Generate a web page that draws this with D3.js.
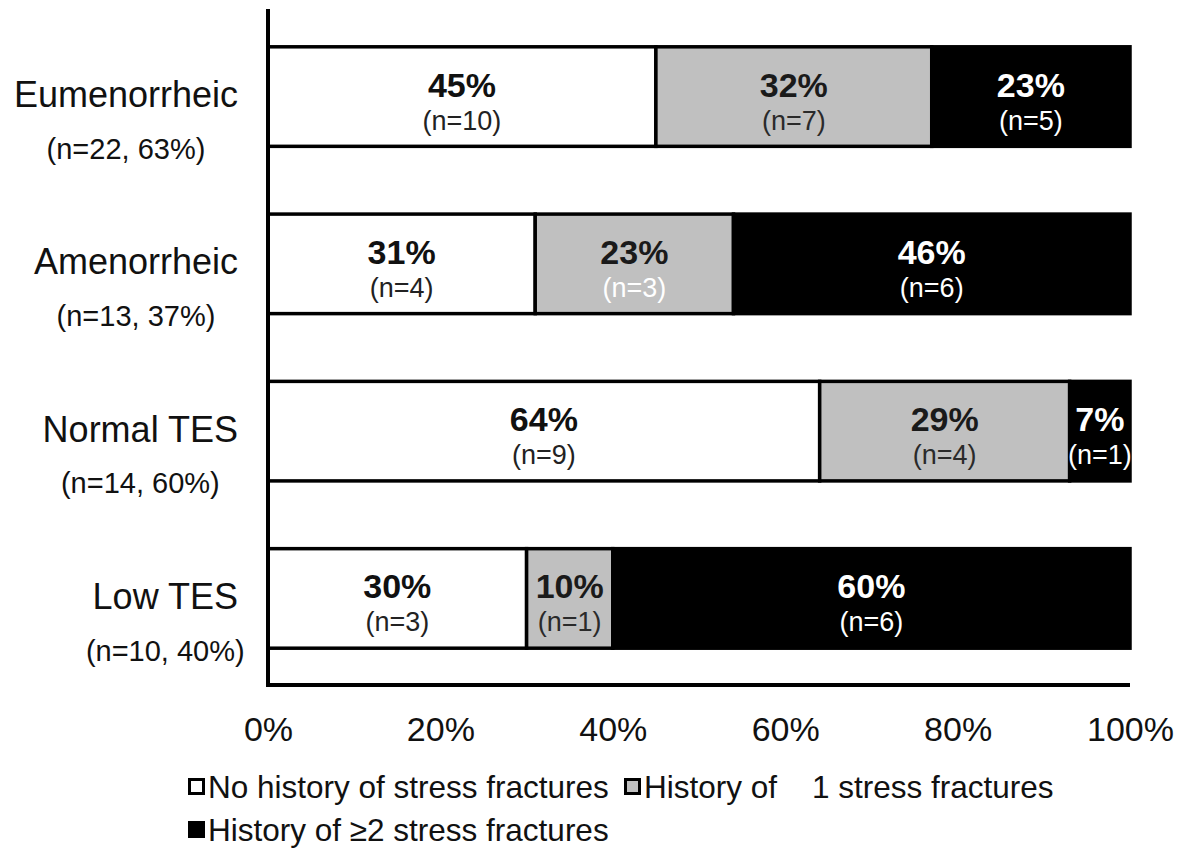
<!DOCTYPE html>
<html>
<head>
<meta charset="utf-8">
<script src="https://cdn.jsdelivr.net/npm/d3@7"></script>
<style>
  html, body { margin: 0; padding: 0; background: #fff; }
  svg { display: block; font-family: "Liberation Sans", Arial, sans-serif; }
</style>
</head>
<body>
<svg id="chart" width="1185" height="851"></svg>
<script>
// ---- data ----
const categories = ["Eumenorrheic", "Amenorrheic", "Normal TES", "Low TES"];
const categorySubLabels = ["(n=22, 63%)", "(n=13, 37%)", "(n=14, 60%)", "(n=10, 40%)"];
const seriesNames = ["No history of stress fractures", "History of    1 stress fractures", "History of \u22652 stress fractures"];
const noHistoryPct = [45, 31, 64, 30];
const noHistoryN = [10, 4, 9, 3];
const oneFracturePct = [32, 23, 29, 10];
const oneFractureN = [7, 3, 4, 1];
const twoPlusPct = [23, 46, 7, 60];
const twoPlusN = [5, 6, 1, 6];
const xTickValues = [0, 20, 40, 60, 80, 100];
const xTickLabels = ["0%", "20%", "40%", "60%", "80%", "100%"];

// ---- styles ----
const fills = ["#ffffff", "#c0c0c0", "#000000"];
const pctColors = ["#111111", "#1a1a1a", "#ffffff"];
const nColors = ["#222222", "#2a2a2a", "#ffffff"];

const svg = d3.select("#chart");
const x = d3.scaleLinear().domain([0, 100]).range([268, 1130]);
const y = d3.scaleBand().domain(categories).range([10, 685]).paddingInner(0.405).paddingOuter(0.22);

const seriesPct = [noHistoryPct, oneFracturePct, twoPlusPct];
const seriesN = [noHistoryN, oneFractureN, twoPlusN];

// stacked segments
const rows = categories.map((c, i) => {
  let acc = 0;
  return seriesPct.map((s, k) => {
    const seg = { cat: c, k, x0: acc, x1: acc + s[i], pct: s[i], n: seriesN[k][i], i };
    acc += s[i];
    return seg;
  });
});
const segs = rows.flat();

svg.append("g").selectAll("rect").data(segs).join("rect")
  .attr("x", d => x(d.x0))
  .attr("y", d => y(d.cat))
  .attr("width", d => x(d.x1) - x(d.x0))
  .attr("height", y.bandwidth())
  .attr("fill", d => fills[d.k])
  .attr("stroke", "#000")
  .attr("stroke-width", 3.5);

// segment labels
const lab = svg.append("g").selectAll("g").data(segs).join("g")
  .attr("transform", d => `translate(${(x(d.x0) + x(d.x1)) / 2},${y(d.cat) + y.bandwidth() / 2})`);
lab.append("text")
  .attr("text-anchor", "middle")
  .attr("y", 0)
  .attr("font-size", 34)
  .attr("font-weight", "bold")
  .attr("fill", d => pctColors[d.k])
  .text(d => d.pct + "%");
lab.append("text")
  .attr("text-anchor", "middle")
  .attr("y", 33)
  .attr("font-size", 27)
  .attr("fill", d => (d.k === 1 && d.i === 1) ? "#ffffff" : nColors[d.k])
  .text(d => "(n=" + d.n + ")");

// y axis line and x axis line
svg.append("line").attr("x1", 268).attr("x2", 268).attr("y1", 9).attr("y2", 687)
  .attr("stroke", "#000").attr("stroke-width", 4);
svg.append("line").attr("x1", 266).attr("x2", x(100)).attr("y1", 685).attr("y2", 685)
  .attr("stroke", "#000").attr("stroke-width", 4);

// x tick labels via axis
const xAxis = d3.axisBottom(x).tickValues(xTickValues).tickSize(0).tickPadding(0)
  .tickFormat((d, i) => xTickLabels[i]);
const gx = svg.append("g").attr("transform", "translate(0,717)").call(xAxis);
gx.select(".domain").remove();
gx.selectAll("text").attr("font-size", 34).attr("fill", "#111")
  .attr("font-family", "Liberation Sans, Arial, sans-serif").attr("dy", "0.71em");

// category labels
const cg = svg.append("g").selectAll("g").data(categories).join("g");
cg.each(function (c, i) {
  const g = d3.select(this);
  const cy = y(c) + y.bandwidth() / 2;
  const t = g.append("text")
    .attr("x", 238).attr("y", cy - 2)
    .attr("dy", "0.35em")
    .attr("text-anchor", "end")
    .attr("font-size", 36)
    .attr("fill", "#111")
    .text(c);
  const w = t.node().getComputedTextLength();
  g.append("text")
    .attr("x", 238 - w / 2).attr("y", cy + 52)
    .attr("dy", "0.35em")
    .attr("text-anchor", "middle")
    .attr("font-size", 29)
    .attr("fill", "#111")
    .text(categorySubLabels[i]);
});

// legend
const legendItems = [
  { name: seriesNames[0], k: 0, x: 188, y: 787 },
  { name: seriesNames[1], k: 1, x: 624, y: 787 },
  { name: seriesNames[2], k: 2, x: 188, y: 830 }
];
const lg = svg.append("g").selectAll("g").data(legendItems).join("g")
  .attr("transform", d => `translate(${d.x},${d.y})`);
lg.append("rect").attr("x", 1.5).attr("y", -7.5).attr("width", 14).attr("height", 14)
  .attr("fill", d => fills[d.k]).attr("stroke", "#000").attr("stroke-width", 3);
lg.append("text").attr("x", 20).attr("dy", "0.35em")
  .attr("font-size", 31.5).attr("fill", "#111")
  .style("white-space", "pre")
  .text(d => d.name);
</script>
</body>
</html>
